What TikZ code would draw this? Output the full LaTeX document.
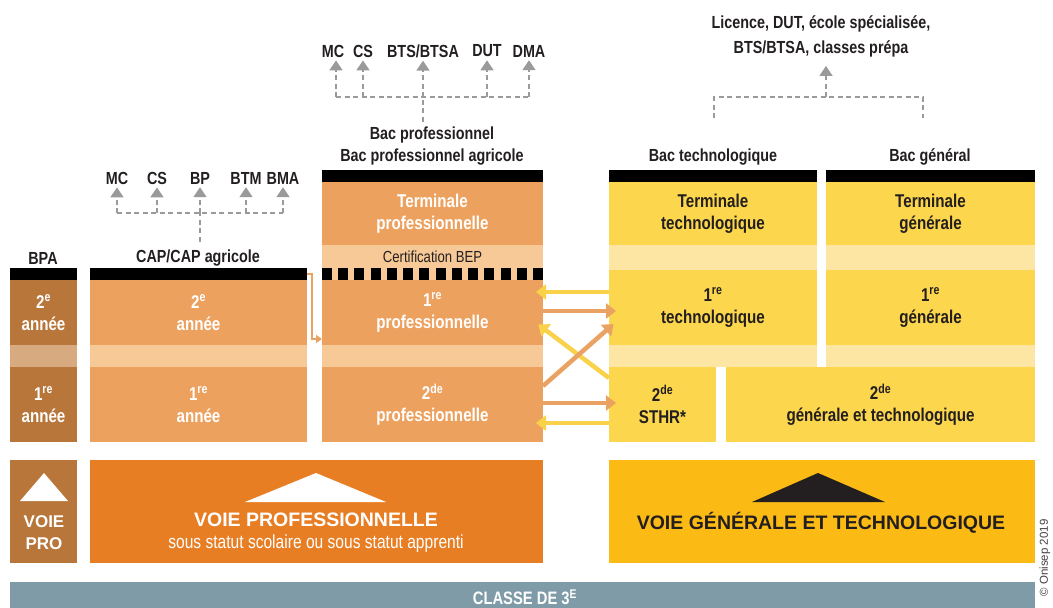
\documentclass[tikz,border=0pt]{standalone}
\usepackage{fontspec}
\setmainfont{Liberation Sans}[FakeStretch=0.82]
\newfontfamily\widefont{Liberation Sans}
\usetikzlibrary{arrows.meta,calc}
\definecolor{bpa}{HTML}{B8763A}
\definecolor{bpalt}{HTML}{D8AA80}
\definecolor{pro}{HTML}{EDA15F}
\definecolor{prolt}{HTML}{F6C996}
\definecolor{yel}{HTML}{FCD64C}
\definecolor{yellt}{HTML}{FDE6A4}
\definecolor{voiepro}{HTML}{E87E24}
\definecolor{voiegen}{HTML}{FBBA14}
\definecolor{classe}{HTML}{7F9BA8}
\definecolor{txt}{HTML}{231F20}
\definecolor{gdash}{HTML}{9A9A9A}
\definecolor{arrY}{HTML}{F9D24A}
\definecolor{arrO}{HTML}{E9A262}
\tikzset{
  blk/.style={anchor=north west, inner sep=0pt, outer sep=0pt, align=center,
    font=\fontsize{18.5}{22}\selectfont\bfseries},
  wbox/.style={blk, text=white},
  dbox/.style={blk, text=txt},
  band/.style={anchor=north west, inner sep=0pt, outer sep=0pt},
  hdr/.style={inner sep=1pt, align=center, text=txt, font=\fontsize{17.5}{22}\selectfont\bfseries},
  bar/.style={anchor=north west, inner sep=0pt, outer sep=0pt, fill=black, minimum height=12pt},
  gd/.style={draw=gdash, line width=1.6pt, dash pattern=on 5pt off 3.5pt},
  gar/.style={gd, -{Triangle[width=13pt,length=10pt]}},
  conn/.style={line width=4.5pt, -{Triangle[width=15pt,length=10pt]}},
}
\begin{document}
\begin{tikzpicture}[x=1pt,y=-1pt]
\useasboundingbox[fill=white] (0,0) rectangle (1053,608);

% ---------- headers ----------
\node[hdr] (bpa) at (43,258) {BPA};
\node[hdr] (caphdr) at (198,258) {CAP/CAP agricole};
\node[hdr] (prohdr) at (432,146) {Bac professionnel\\Bac professionnel agricole};
\node[hdr] (techhdr) at (713,157) {Bac technologique};
\node[hdr] (genhdr) at (930,157) {Bac général};
\node[hdr, font=\fontsize{17.5}{25}\selectfont\bfseries] (lic) at (821,36) {Licence, DUT, école spécialisée,\\BTS/BTSA, classes prépa};

% ---------- BPA column ----------
\node[bar, minimum width=67pt] (bpabar) at (10,268) {};
\node[wbox, fill=bpa, minimum width=67pt, minimum height=65pt] (bpa2) at (10,280) {2\textsuperscript{e}\\année};
\node[band, fill=bpalt, minimum width=67pt, minimum height=22pt] (bpab) at (10,345) {};
\node[wbox, fill=bpa, minimum width=67pt, minimum height=75pt] (bpa1) at (10,367) {1\textsuperscript{re}\\année};

% ---------- CAP column ----------
\node[bar, minimum width=217pt] (capbar) at (90,268) {};
\node[wbox, fill=pro, minimum width=217pt, minimum height=65pt] (cap2) at (90,280) {2\textsuperscript{e}\\année};
\node[band, fill=prolt, minimum width=217pt, minimum height=22pt] (capb) at (90,345) {};
\node[wbox, fill=pro, minimum width=217pt, minimum height=75pt] (cap1) at (90,367) {1\textsuperscript{re}\\année};

% ---------- Bac pro column ----------
\node[bar, minimum width=221pt] (probar) at (322,170) {};
\node[wbox, fill=pro, minimum width=221pt, minimum height=63pt] (proT) at (322,182) {Terminale\\professionnelle};
\node[band, fill=prolt, minimum width=221pt, minimum height=23pt, text=txt,
      font=\fontsize{16}{18}\selectfont] (cert) at (322,245) {Certification BEP};
\node[band, fill=prolt, minimum width=221pt, minimum height=12pt] (prodash) at (322,268) {};
\draw[line width=12pt, dash pattern=on 10pt off 6.23pt] (prodash.west) -- (prodash.east);
\node[wbox, fill=pro, minimum width=221pt, minimum height=65pt] (pro1) at (322,280) {1\textsuperscript{re}\\professionnelle};
\node[band, fill=prolt, minimum width=221pt, minimum height=22pt] (prob) at (322,345) {};
\node[wbox, fill=pro, minimum width=221pt, minimum height=75pt] (pro2) at (322,367) {2\textsuperscript{de}\\professionnelle};

% ---------- Bac techno column ----------
\node[bar, minimum width=208pt] (techbar) at (609,170) {};
\node[dbox, fill=yel, minimum width=208pt, minimum height=63pt] (techT) at (609,182) {Terminale\\technologique};
\node[band, fill=yellt, minimum width=208pt, minimum height=25pt] (techb1) at (609,245) {};
\node[dbox, fill=yel, minimum width=208pt, minimum height=75pt] (tech1) at (609,270) {1\textsuperscript{re}\\technologique};
\node[band, fill=yellt, minimum width=208pt, minimum height=22pt] (techb2) at (609,345) {};
\node[dbox, fill=yel, minimum width=107pt, minimum height=75pt] (sthr) at (609,367) {2\textsuperscript{de}\\STHR*};

% ---------- Bac general column ----------
\node[bar, minimum width=209pt] (genbar) at (826,170) {};
\node[dbox, fill=yel, minimum width=209pt, minimum height=63pt] (genT) at (826,182) {Terminale\\générale};
\node[band, fill=yellt, minimum width=209pt, minimum height=25pt] (genb1) at (826,245) {};
\node[dbox, fill=yel, minimum width=209pt, minimum height=75pt] (gen1) at (826,270) {1\textsuperscript{re}\\générale};
\node[band, fill=yellt, minimum width=209pt, minimum height=22pt] (genb2) at (826,345) {};
\node[dbox, fill=yel, minimum width=309pt, minimum height=75pt] (gen2) at (726,367) {2\textsuperscript{de}\\générale et technologique};

% ---------- bottom ----------
\node[band, fill=bpa, minimum width=67pt, minimum height=103pt] (vpro) at (10,460) {};
\fill[white] (44,473) -- (68,501) -- (20,501) -- cycle;
\node[text=white, align=center, font=\fontsize{17}{22}\selectfont\widefont\bfseries] (vprot) at (44,533) {VOIE\\PRO};

\node[band, fill=voiepro, minimum width=453pt, minimum height=103pt] (vpbig) at (90,460) {};
\fill[white] (316,473) -- (386,502) -- (245,502) -- cycle;
\node[text=white, font=\fontsize{19.5}{22}\selectfont\widefont\bfseries] (vpt) at (316,520) {VOIE PROFESSIONNELLE};
\node[text=white, font=\fontsize{19}{22}\selectfont] (vps) at (316,544) {sous statut scolaire ou sous statut apprenti};

\node[band, fill=voiegen, minimum width=426pt, minimum height=103pt] (vgen) at (609,460) {};
\fill[txt] (818,473) -- (885,502) -- (752,502) -- cycle;
\node[text=txt, font=\fontsize{19.5}{22}\selectfont\widefont\bfseries] (vgt) at (821,523) {VOIE GÉNÉRALE ET TECHNOLOGIQUE};

\node[band, fill=classe, minimum width=1025pt, minimum height=26pt] (classe) at (10,582) {};
\node[text=white, font=\fontsize{18}{20}\selectfont\bfseries] (classet) at (525,597) {CLASSE DE 3\textsuperscript{E}};

\node[rotate=90, text=txt!85, font=\fontsize{11.5}{12}\selectfont\widefont] (copy) at (1045,558) {© Onisep 2019};

% ---------- dashed outlets : CAP ----------
\node[hdr] (c1) at (117,178) {MC};
\node[hdr] (c2) at (157,178) {CS};
\node[hdr] (c3) at (200,178) {BP};
\node[hdr] (c4) at (246,178) {BTM};
\node[hdr] (c5) at (283,178) {BMA};
\coordinate (cj) at (200,213);
\draw[gd, shorten <=7pt] (cj |- caphdr.north) -- (cj);
\draw[gd] (cj -| c1) -- (cj -| c5);
\foreach \n in {c1,c2,c3,c4,c5}
  \draw[gar, shorten >=2pt] (cj -| \n) -- (\n.south);

% ---------- dashed outlets : Bac pro ----------
\node[hdr] (p1) at (333,51) {MC};
\node[hdr] (p2) at (363,51) {CS};
\node[hdr] (p3) at (423,51) {BTS/BTSA};
\node[hdr] (p4) at (487,51) {DUT};
\node[hdr] (p5) at (529,51) {DMA};
\coordinate (pj) at (423,97);
\draw[gd, shorten <=4pt] (pj |- prohdr.north) -- (pj);
\coordinate (pa) at (336,97);
\draw[gd] (pa) -- (pj -| p5);
\draw[gar, shorten >=2pt] (pa) -- (pa |- p1.south);
\foreach \n in {p2,p3,p4,p5}
  \draw[gar, shorten >=2pt] (pj -| \n) -- (\n.south);

% ---------- dashed outlet : general / techno ----------
\coordinate (lj) at (826,97);
\coordinate (la) at (714,118);
\coordinate (lb) at (923,118);
\draw[gd] (la) |- (lj) -| (lb);
\draw[gar, shorten >=8pt] (lj) -- (lj |- lic.south);

% ---------- CAP -> 1re pro ----------
\coordinate (cb) at (312,339);
\draw[arrO, line width=2.5pt, -{Triangle[width=8pt,length=6pt]}] (capbar.east) -| (cb) -- (cb -| pro1.west);

% ---------- passerelles ----------
\coordinate (h1) at (0,292);
\coordinate (h2) at (0,311);
\coordinate (h5) at (0,403);
\coordinate (h6) at (0,423);
\coordinate (dA) at (0,378);
\coordinate (dB) at (0,328);
\coordinate (dC) at (0,386);
\draw[conn, arrY, shorten >=-7pt] (tech1.west |- h1) -- (pro1.east |- h1);
\draw[conn, arrO, shorten >=-7pt] (pro1.east |- h2) -- (tech1.west |- h2);
\draw[conn, arrY, shorten >=-6pt] (sthr.west |- dA) -- (pro1.east |- dB);
\draw[conn, arrO, shorten >=-6pt] (pro2.east |- dC) -- (tech1.west |- dB);
\draw[conn, arrO, shorten >=-7pt] (pro2.east |- h5) -- (sthr.west |- h5);
\draw[conn, arrY, shorten >=-7pt] (sthr.west |- h6) -- (pro2.east |- h6);
\end{tikzpicture}
\end{document}
